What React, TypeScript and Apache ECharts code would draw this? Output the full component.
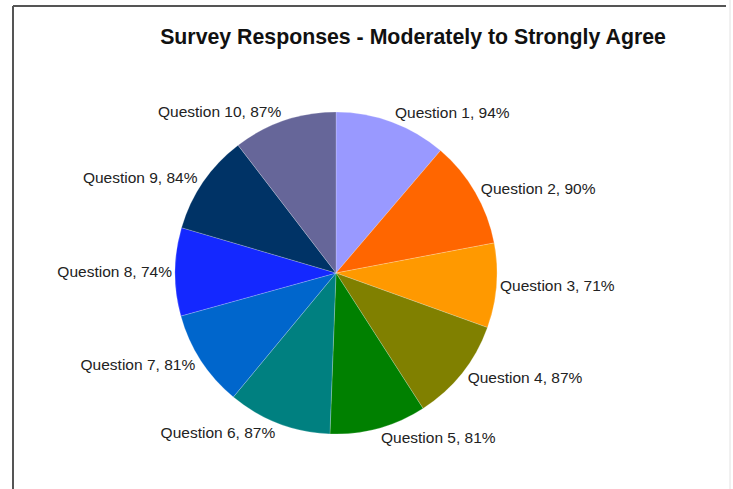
import React, { useEffect, useRef } from "react";
import * as echarts from "echarts";

const titleText = "Survey Responses - Moderately to Strongly Agree";
const categories = [
  "Question 1",
  "Question 2",
  "Question 3",
  "Question 4",
  "Question 5",
  "Question 6",
  "Question 7",
  "Question 8",
  "Question 9",
  "Question 10",
];
const percentages = [94, 90, 71, 87, 81, 87, 81, 74, 84, 87];
const sliceColors = [
  "#9999FF",
  "#FF6600",
  "#FF9900",
  "#808000",
  "#008000",
  "#008080",
  "#0066CC",
  "#1428FF",
  "#003366",
  "#666699",
];

export default function App() {
  const ref = useRef<HTMLDivElement>(null);

  useEffect(() => {
    if (!ref.current) return;
    const chart = echarts.init(ref.current, undefined, { renderer: "svg" });

    const total = percentages.reduce((a, b) => a + b, 0);
    let cum = 0;
    const data = categories.map((name, i) => {
      const v = percentages[i];
      const mid = ((cum + v / 2) / total) * 2 * Math.PI;
      cum += v;
      const off = 3 + 7 * Math.abs(Math.cos(mid));
      return {
        name,
        value: v,
        itemStyle: { color: sliceColors[i] },
        labelLine: { show: false, length: off, length2: 0 },
      };
    });

    chart.setOption({
      animation: false,
      backgroundColor: "#ffffff",
      title: {
        text: titleText,
        left: 408,
        top: 21,
        textAlign: "center",
        textStyle: {
          fontFamily: "Liberation Sans",
          fontSize: 21.3,
          fontWeight: "bold",
          color: "#111",
        },
      },
      graphic: [
        {
          type: "line",
          shape: { x1: 13, y1: 6, x2: 726, y2: 6 },
          style: { stroke: "#555", lineWidth: 2 },
        },
        {
          type: "line",
          shape: { x1: 13, y1: 6, x2: 13, y2: 489 },
          style: { stroke: "#555", lineWidth: 2 },
        },
        {
          type: "line",
          shape: { x1: 730, y1: 0, x2: 730, y2: 489 },
          style: { stroke: "#e2e2e2", lineWidth: 1 },
        },
      ],
      series: [
        {
          type: "pie",
          center: [336, 273],
          radius: [0, 161],
          startAngle: 90,
          clockwise: true,
          avoidLabelOverlap: false,
          emphasis: { disabled: true },
          itemStyle: { borderColor: "rgba(255,255,255,0.35)", borderWidth: 0.6 },
          label: {
            show: true,
            position: "outside",
            distanceToLabelLine: 0,
            formatter: (p: any) => `${p.name}, ${p.value}%`,
            fontFamily: "Liberation Sans",
            fontSize: 15.5,
            color: "#222",
          },
          labelLine: { show: false },
          data,
        },
      ],
    });

    return () => chart.dispose();
  }, []);

  return (
    <div
      ref={ref}
      style={{ position: "fixed", left: 0, top: 0, width: 733, height: 489 }}
    />
  );
}
